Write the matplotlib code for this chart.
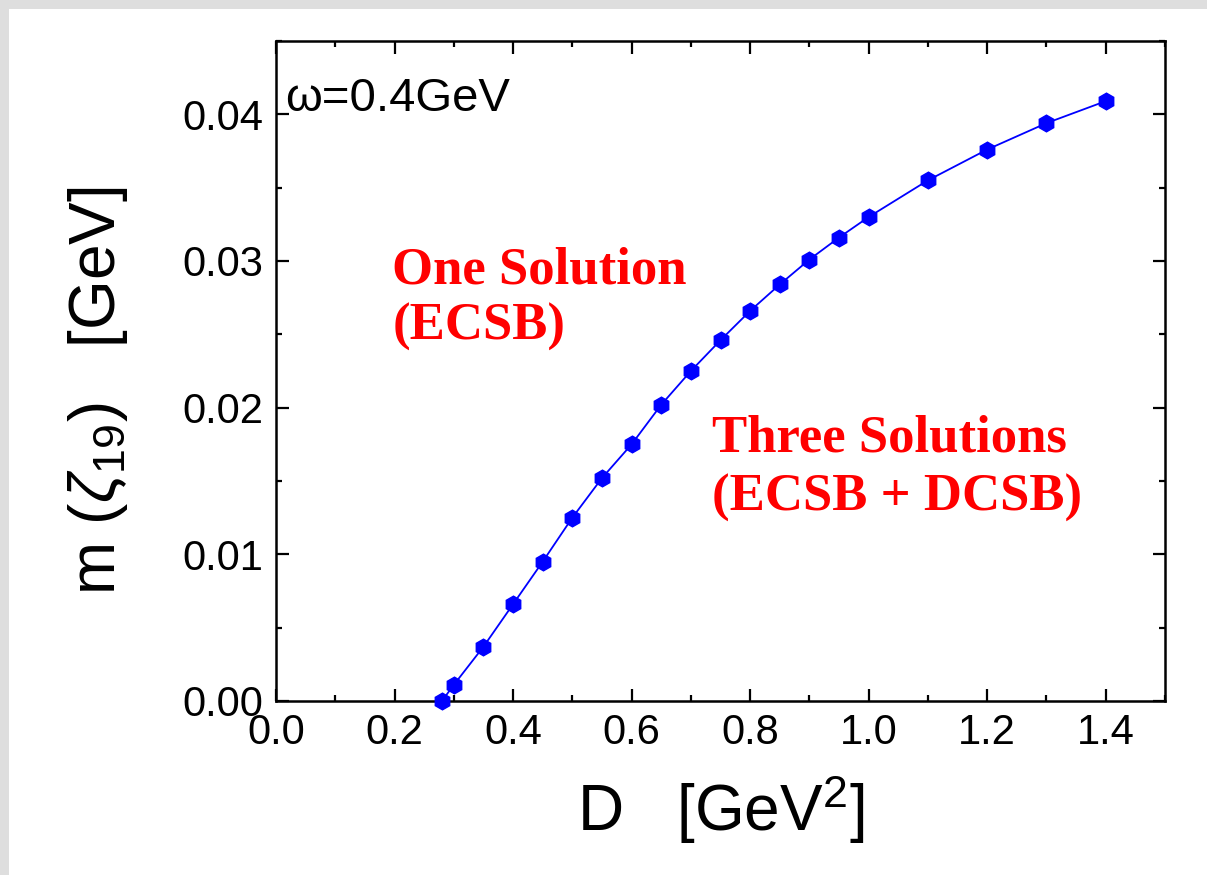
import numpy as np
import matplotlib
matplotlib.use('Agg')
import matplotlib.pyplot as plt
from matplotlib.patches import Rectangle
from matplotlib.ticker import MultipleLocator, FormatStrFormatter

# current mass at the critical point vs. interaction strength D
D_values = [0.28, 0.30, 0.35, 0.40, 0.45, 0.50, 0.55, 0.60, 0.65, 0.70,
            0.75, 0.80, 0.85, 0.90, 0.95, 1.00, 1.10, 1.20, 1.30, 1.40]
m_values = [0.0000, 0.0011, 0.0037, 0.0066, 0.0095, 0.0125, 0.0152, 0.0175,
            0.0202, 0.0225, 0.0246, 0.0266, 0.0284, 0.0301, 0.0316, 0.0330,
            0.0355, 0.0376, 0.0394, 0.0409]

x_ticks = [0.0, 0.2, 0.4, 0.6, 0.8, 1.0, 1.2, 1.4]
y_ticks = [0.00, 0.01, 0.02, 0.03, 0.04]

plt.rcParams['font.family'] = ['Liberation Sans', 'DejaVu Sans']
plt.rcParams['mathtext.fontset'] = 'custom'
plt.rcParams['mathtext.rm'] = 'Liberation Sans'
plt.rcParams['mathtext.it'] = 'Liberation Sans:italic'

fig = plt.figure(figsize=(12.07, 8.75), dpi=100)
fig.patch.set_facecolor('white')

# grey strips along the top and left edge of the slide
fig.patches.append(Rectangle((0, 1 - 9 / 875), 1, 9 / 875, transform=fig.transFigure,
                             facecolor='#dedede', edgecolor='none', zorder=0))
fig.patches.append(Rectangle((0, 0), 9 / 1207, 1, transform=fig.transFigure,
                             facecolor='#dedede', edgecolor='none', zorder=0))

ax = fig.add_axes([276 / 1207, 1 - 701 / 875, 889 / 1207, 660 / 875])

ax.plot(D_values, m_values, color='#0000ff', lw=1.3, marker='h',
        markersize=12, markerfacecolor='#0000ff', markeredgecolor='#0000ff',
        clip_on=False, zorder=3)

ax.set_xlim(0.0, 1.5)
ax.set_ylim(0.0, 0.045)
ax.set_xticks(x_ticks)
ax.set_yticks(y_ticks)
ax.xaxis.set_minor_locator(MultipleLocator(0.1))
ax.yaxis.set_minor_locator(MultipleLocator(0.005))
ax.xaxis.set_major_formatter(FormatStrFormatter('%.1f'))
ax.yaxis.set_major_formatter(FormatStrFormatter('%.2f'))

ax.tick_params(which='both', direction='in', top=True, right=True, width=1.6)
ax.tick_params(which='major', length=9, labelsize=30)
ax.tick_params(which='minor', length=4.5)
ax.tick_params(axis='x', which='major', pad=9)
ax.tick_params(axis='y', which='major', pad=9)
for sp in ax.spines.values():
    sp.set_linewidth(1.8)

ax.set_xlabel(r'D   [GeV$^2$]', fontsize=46, labelpad=14)
ax.set_ylabel(r'm $(\zeta_{19})$   [GeV]', fontsize=46, labelpad=38, y=0.47)

ax.text(0.015, 0.0402, 'ω=0.4GeV', fontsize=34, va='baseline', ha='left')

red_font = dict(family='Liberation Serif', weight='bold', color='#ff0000',
                fontsize=38, va='baseline', ha='left')
ax.text(0.196, 0.0285, 'One Solution', **red_font)
ax.text(0.196, 0.0246, '(ECSB)', **red_font)
ax.text(0.736, 0.0170, 'Three Solutions', **red_font)
ax.text(0.736, 0.0130, '(ECSB + DCSB)', **red_font)

fig.savefig('out.png', dpi=100)
